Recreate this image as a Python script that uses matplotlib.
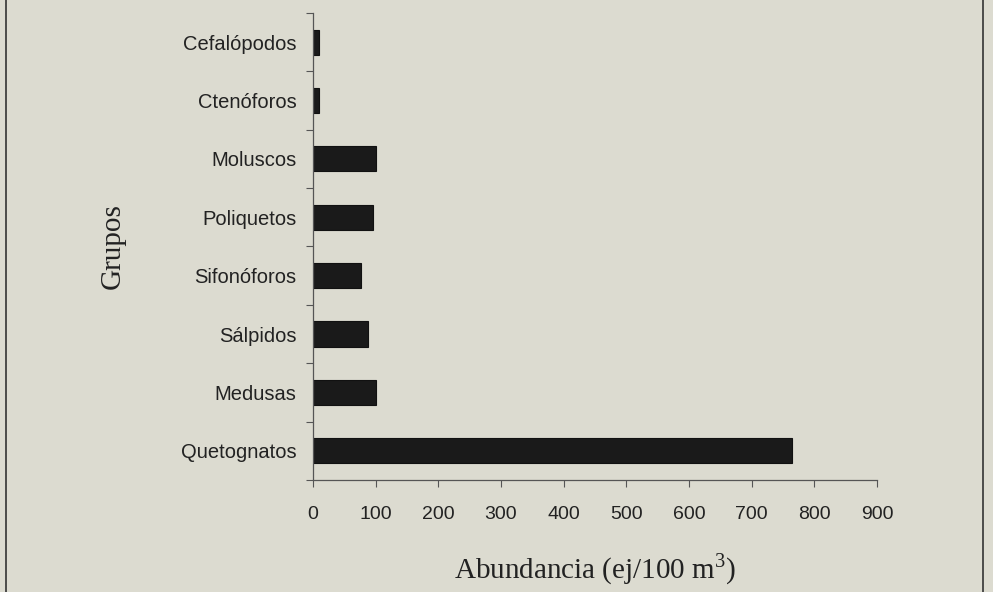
import matplotlib
matplotlib.use("Agg")
import matplotlib.pyplot as plt
from matplotlib.lines import Line2D

plt.rcParams['mathtext.fontset'] = 'custom'
plt.rcParams['mathtext.rm'] = 'Liberation Serif'

# datos de abundancia por grupo
grupos = ['Quetognatos', 'Medusas', 'Sálpidos', 'Sifonóforos',
          'Poliquetos', 'Moluscos', 'Ctenóforos', 'Cefalópodos']
abundancia = [765, 101, 87, 76, 95, 101, 9, 10]
xticks = [0, 100, 200, 300, 400, 500, 600, 700, 800, 900]

bg = '#dcdbd0'

fig = plt.figure(figsize=(9.93, 5.92), dpi=100, facecolor=bg)
ax = fig.add_axes([0.3152, 0.1892, 0.568, 0.789])
ax.set_facecolor(bg)

ypos = range(len(grupos))
ax.barh(ypos, abundancia, height=0.43, color='#1a1a1a', edgecolor='#111111', linewidth=0.8)

ax.set_xlim(0, 900)
ax.set_ylim(-0.5, len(grupos) - 0.5)
ax.set_xticks(xticks)
ax.set_xticklabels([str(t) for t in xticks], family='Liberation Sans', fontsize=14, color='#222222')

# marcas del eje y entre categorias, etiquetas centradas
ax.set_yticks([i - 0.5 for i in range(len(grupos) + 1)])
ax.set_yticklabels([])
ax.set_yticks(list(ypos), minor=True)
ax.set_yticklabels(grupos, minor=True, family='Liberation Sans', fontsize=14.5, color='#222222')
ax.tick_params(axis='y', which='minor', length=0, pad=12)
ax.tick_params(axis='y', which='major', length=5, width=0.8, color='#555555')
ax.tick_params(axis='x', length=5, width=0.8, color='#555555', pad=14)

for s in ['top', 'right']:
    ax.spines[s].set_visible(False)
for s in ['left', 'bottom']:
    ax.spines[s].set_color('#555555')
    ax.spines[s].set_linewidth(0.9)

ax.set_xlabel('Abundancia (ej/100 m$^3$)', family='Liberation Serif', fontsize=21,
              color='#222222', labelpad=20)
fig.text(113 / 993, 1 - 246 / 592, 'Grupos', family='Liberation Serif', fontsize=21,
         color='#222222', rotation=90, ha='center', va='center')

# marco lateral de la figura
fig.add_artist(Line2D([6 / 993, 6 / 993], [0, 1], color='#333333', linewidth=1.2))
fig.add_artist(Line2D([983 / 993, 983 / 993], [0, 1], color='#333333', linewidth=1.2))

fig.savefig('out.png', dpi=100, facecolor=bg)
